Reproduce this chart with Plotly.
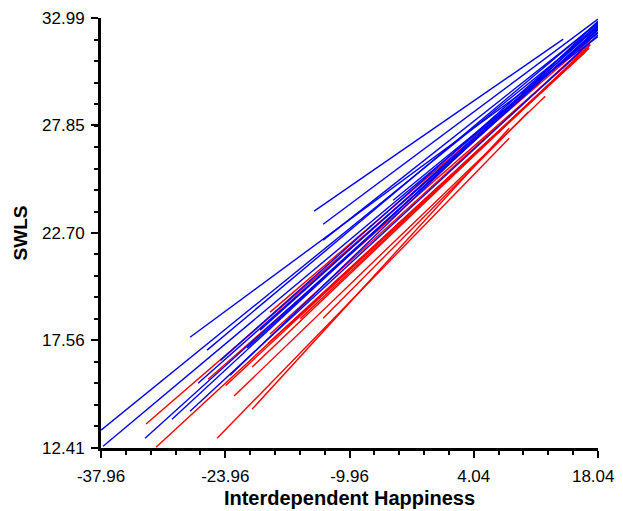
import plotly.graph_objects as go

# Blue group: line endpoints (Interdependent Happiness, SWLS)
blue_x1 = [-37.96, -37.73, -13.95, -12.93, -12.93, -27.93, -26.01, -27.02, -27.93, -29.96, -33.00, -5.04, -20.03, -23.42, -24.50, -21.50]
blue_y1 = [13.26, 12.49, 23.75, 23.12, 22.36, 17.71, 17.09, 15.51, 14.17, 13.78, 12.87, 24.27, 18.05, 15.89, 16.60, 17.20]
blue_x2 = [18.04, 18.04, 14.13, 18.04, 18.04, 18.04, 18.04, 18.04, 18.04, 18.04, 18.04, 18.04, 18.04, 18.04, 18.04, 18.04]
blue_y2 = [32.56, 32.32, 31.98, 32.94, 32.75, 32.10, 32.80, 32.42, 32.18, 32.65, 32.46, 32.27, 32.60, 32.84, 32.70, 32.50]

# Red group
red_x1 = [-32.89, -31.76, -24.88, -22.97, -20.94, -20.94, -18.91, -18.91, -25.90, -12.93, -19.13, -16.99, -23.90, -15.50]
red_y1 = [13.55, 12.44, 12.87, 14.89, 14.26, 16.28, 17.86, 18.91, 15.70, 18.62, 17.42, 18.19, 15.40, 18.60]
red_x2 = [17.17, 16.94, 8.04, 12.10, 8.04, 17.17, 17.17, 16.94, 17.17, 10.18, 17.05, 16.60, 17.00, 16.80]
red_y2 = [31.94, 31.55, 27.24, 29.25, 27.72, 31.70, 31.84, 31.94, 31.74, 28.49, 31.55, 31.36, 31.60, 31.50]

x_ticks = [-37.96, -23.96, -9.96, 4.04, 18.04]
x_labels = ["-37.96", "-23.96", "-9.96", "4.04", "18.04\u00a0\u00a0"]
y_ticks = [12.41, 17.56, 22.70, 27.85, 32.99]
y_labels = ["12.41", "17.56", "22.70", "27.85", "32.99"]


def segs(x1, y1, x2, y2):
    xs, ys = [], []
    for a, b, c, d in zip(x1, y1, x2, y2):
        xs += [a, c, None]
        ys += [b, d, None]
    return xs, ys


fig = go.Figure()
bx, by = segs(blue_x1, blue_y1, blue_x2, blue_y2)
rx, ry = segs(red_x1, red_y1, red_x2, red_y2)
fig.add_trace(go.Scatter(x=rx, y=ry, mode="lines", line=dict(color="#FF0000", width=1.4),
                         showlegend=False, hoverinfo="skip"))
fig.add_trace(go.Scatter(x=bx, y=by, mode="lines", line=dict(color="#0000FF", width=1.4),
                         showlegend=False, hoverinfo="skip"))

font_family = "Liberation Sans, Arial, Helvetica, sans-serif"

# page body has an 8px margin, so the figure is sized/offset to compensate
fig.update_layout(
    width=615, height=503,
    margin=dict(l=93, r=25, t=10, b=63, autoexpand=False),
    paper_bgcolor="white", plot_bgcolor="white",
    font=dict(family=font_family, size=17, color="black"),
    xaxis=dict(
        range=[-37.965, 18.045], showgrid=False, zeroline=False,
        showline=True, linewidth=3, linecolor="black",
        ticks="outside", ticklen=7, tickwidth=2, tickcolor="black",
        tickvals=x_ticks, ticktext=x_labels,
        tickfont=dict(size=17), ticklabelstandoff=4, ticklabeloverflow="allow",
        minor=dict(ticks="outside", ticklen=4, tickwidth=2, tickcolor="black",
                   tick0=-37.96, dtick=2.8, showgrid=False),
        title=dict(text="<b>Interdependent Happiness</b>", font=dict(size=20), standoff=6),
        automargin=False, fixedrange=True,
    ),
    yaxis=dict(
        range=[12.405, 32.995], showgrid=False, zeroline=False,
        showline=True, linewidth=3, linecolor="black",
        ticks="outside", ticklen=7, tickwidth=2, tickcolor="black",
        tickvals=y_ticks, ticktext=y_labels,
        tickfont=dict(size=17), ticklabelstandoff=3,
        minor=dict(ticks="outside", ticklen=4, tickwidth=2, tickcolor="black",
                   tick0=12.41, dtick=1.029, showgrid=False),
        title=dict(text="<b>SWLS</b>", font=dict(size=19), standoff=10),
        automargin=False, fixedrange=True,
    ),
)

fig.write_html("out.html", config={"displayModeBar": False})
